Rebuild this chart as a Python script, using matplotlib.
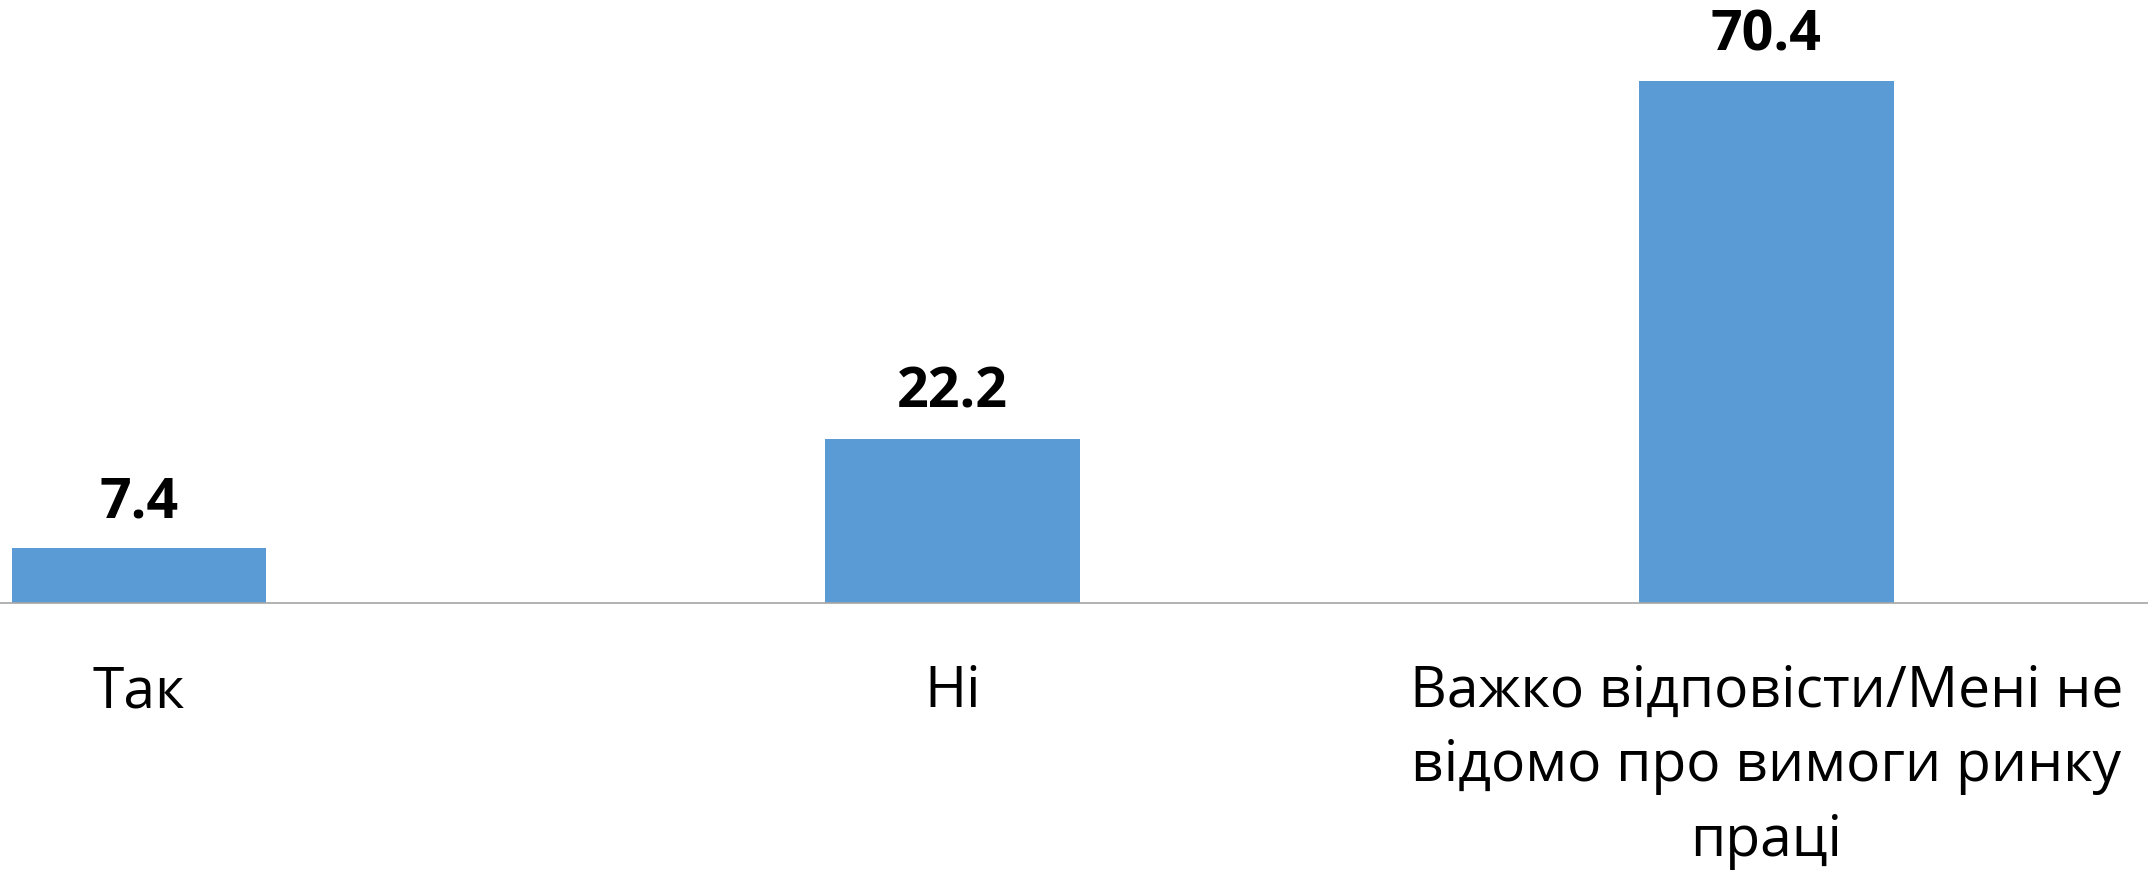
import matplotlib
matplotlib.use("Agg")
import matplotlib.pyplot as plt

categories = ["Так", "Ні", "Важко відповісти/Мені не\nвідомо про вимоги ринку\nпраці"]
values = [7.4, 22.2, 70.4]

plt.rcParams["font.family"] = ["Open Sans", "DejaVu Sans"]

fig = plt.figure(figsize=(21.48, 8.74), dpi=100)
ax = fig.add_axes([0, 0.310, 1, 0.690])

x = range(len(categories))
bars = ax.bar(x, values, width=0.313, color="#5b9bd5")
ax.bar_label(bars, labels=[f"{v:.1f}" for v in values], padding=13,
             fontsize=40, fontweight="bold")

ax.set_xlim(-0.171, 2.469)
ax.set_ylim(0, 81.4)
ax.set_xticks(list(x))
ax.set_xticklabels(categories, fontsize=41, linespacing=1.4)
ax.tick_params(axis="x", length=0, pad=44)
ax.set_yticks([])
for side in ["top", "left", "right"]:
    ax.spines[side].set_visible(False)
ax.spines["bottom"].set_color("#a6a6a6")
ax.spines["bottom"].set_linewidth(1.2)

fig.savefig("out.png", dpi=100)
